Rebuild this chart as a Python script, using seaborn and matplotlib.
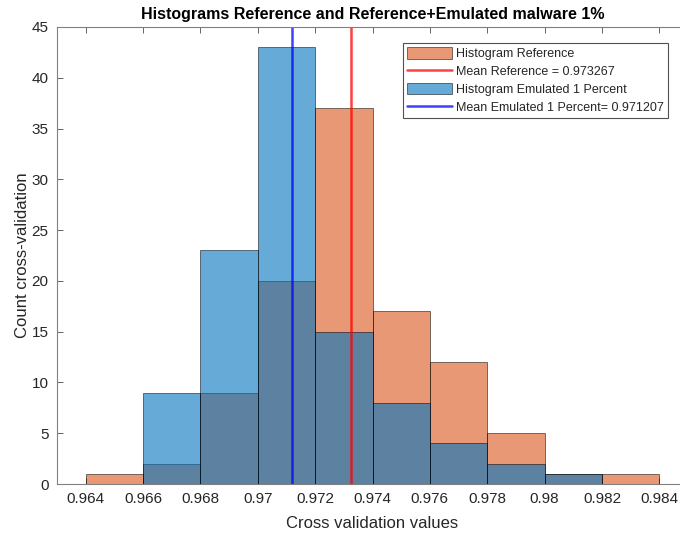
import numpy as np
import pandas as pd
import matplotlib
matplotlib.use("Agg")
import matplotlib.pyplot as plt
import seaborn as sns

# Data
bin_edges = [0.964, 0.966, 0.968, 0.970, 0.972, 0.974, 0.976, 0.978, 0.980, 0.982, 0.984]
ref_counts = [1, 2, 9, 20, 37, 17, 12, 5, 1, 1]
emu_counts = [0, 9, 23, 43, 15, 8, 4, 2, 1, 0]
mean_ref = 0.973267
mean_emu = 0.971207
x_ticks = [0.964, 0.966, 0.968, 0.970, 0.972, 0.974, 0.976, 0.978, 0.980, 0.982, 0.984]
x_tick_labels = ["0.964", "0.966", "0.968", "0.97", "0.972", "0.974", "0.976", "0.978", "0.98", "0.982", "0.984"]
y_ticks = [0, 5, 10, 15, 20, 25, 30, 35, 40, 45]

centers = [(a + b) / 2 for a, b in zip(bin_edges[:-1], bin_edges[1:])]
df_ref = pd.DataFrame({"x": centers, "w": ref_counts})
df_emu = pd.DataFrame({"x": centers, "w": emu_counts})

sns.set_style("ticks")
plt.rcParams['font.family'] = ['Liberation Sans', 'DejaVu Sans']

fig = plt.figure(figsize=(6.8, 5.33), dpi=100)
ax = fig.add_axes([57/680, 49/533, (688-57)/680, (484-27)/533])

orange = (0.85, 0.325, 0.098)
blue = (0.0, 0.447, 0.741)
edge = (0.0, 0.0, 0.0, 0.6)

sns.histplot(data=df_ref, x="x", weights="w", bins=bin_edges, ax=ax,
             color=orange, alpha=0.6, edgecolor=edge, linewidth=0.6)
l_ref = ax.axvline(mean_ref, color=(1, 0, 0), alpha=0.75, lw=1.8)
sns.histplot(data=df_emu, x="x", weights="w", bins=bin_edges, ax=ax,
             color=blue, alpha=0.6, edgecolor=edge, linewidth=0.6)
l_emu = ax.axvline(mean_emu, color=(0, 0, 1), alpha=0.75, lw=1.8)

n = len(ref_counts)
p_ref = ax.patches[0]
p_emu = ax.patches[n]

ax.set_xlim(0.963, 0.985)
ax.set_ylim(0, 45)
ax.set_xticks(x_ticks)
ax.set_xticklabels(x_tick_labels)
ax.set_yticks(y_ticks)

gray = (0.15, 0.15, 0.15)
for s in ax.spines.values():
    s.set_color((0.5, 0.5, 0.5))
    s.set_linewidth(0.8)
ax.tick_params(direction="in", length=4, width=0.6, color=(0.3, 0.3, 0.3),
               labelsize=11, labelcolor=gray, top=True, right=True, pad=6)

ax.set_xlabel("Cross validation values", fontsize=12, color=gray, labelpad=7)
ax.set_ylabel("Count cross-validation", fontsize=12, color=gray, labelpad=1)
ax.set_title("Histograms Reference and Reference+Emulated malware 1%",
             fontsize=11.5, fontweight="bold", color="black", pad=6)

handles = [p_ref, l_ref, p_emu, l_emu]
labels = ["Histogram Reference",
          f"Mean Reference = {mean_ref:.6f}",
          "Histogram Emulated 1 Percent",
          f"Mean Emulated 1 Percent= {mean_emu:.6f}"]
leg = fig.legend(handles, labels, loc="upper left",
                 bbox_to_anchor=(403/680, 1 - 43/533), fontsize=9,
                 frameon=True, fancybox=False, edgecolor=(0.15, 0.15, 0.15),
                 handlelength=3.6, handleheight=1.0, handletextpad=0.3,
                 borderpad=0.35, labelspacing=0.4, borderaxespad=0)
leg.get_frame().set_linewidth(0.8)
for t in leg.get_texts():
    t.set_color(gray)

fig.savefig("out.png", dpi=100)
